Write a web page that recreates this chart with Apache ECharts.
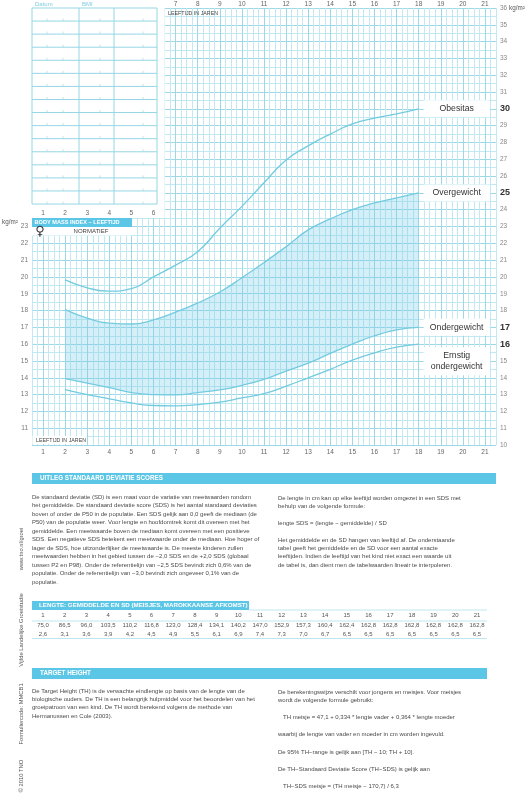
<!DOCTYPE html>
<html>
<head>
<meta charset="utf-8">
<script src="https://cdn.jsdelivr.net/npm/echarts@6/dist/echarts.min.js"></script>
<style>
  html, body { margin: 0; padding: 0; background: #fff; }
  #bmiChart { width: 532px; height: 800px; }
</style>
</head>
<body>
<div id="bmiChart"></div>
<script>
const ages = [2, 3, 4, 5, 6, 7, 8, 9, 10, 11, 12, 13, 14, 15, 16, 17, 18];
// BMI afkapwaarden (kg/m2), meisjes
const obesitas = [19.82, 19.35, 19.15, 19.3, 20.0, 20.7, 21.5, 22.9, 24.2, 25.6, 26.95, 27.8, 28.5, 29.1, 29.45, 29.7, 30.0];
const overgewicht = [18.05, 17.55, 17.25, 17.2, 17.45, 17.9, 18.45, 19.1, 19.95, 20.85, 21.8, 22.8, 23.45, 24.0, 24.4, 24.7, 25.0];
const ondergewicht = [13.95, 13.68, 13.42, 13.12, 13.0, 12.98, 13.12, 13.28, 13.55, 13.9, 14.4, 14.87, 15.45, 16.0, 16.5, 16.85, 17.0];
const ernstigOndergewicht = [13.3, 13.0, 12.75, 12.5, 12.35, 12.33, 12.4, 12.55, 12.8, 13.05, 13.5, 14.0, 14.5, 15.05, 15.48, 15.82, 16.0];
// rechter as: vet gedrukte afkapwaarden
const boldTicks = [16, 17, 25, 30];

// lengtetabel (meisjes, Marokkaanse afkomst)
const tableAges = [1, 2, 3, 4, 5, 6, 7, 8, 9, 10, 11, 12, 13, 14, 15, 16, 17, 18, 19, 20, 21];
const tableMean = [75.0, 86.5, 96.0, 103.5, 110.2, 116.8, 123.0, 128.4, 134.1, 140.2, 147.0, 152.9, 157.3, 160.4, 162.4, 162.8, 162.8, 162.8, 162.8, 162.8, 162.8];
const tableSd = [2.6, 3.1, 3.6, 3.9, 4.2, 4.5, 4.9, 5.5, 6.1, 6.9, 7.4, 7.3, 7.0, 6.7, 6.5, 6.5, 6.5, 6.5, 6.5, 6.5, 6.5];

const sdsLeft = [
  'De standaard deviatie (SD) is een maat voor de variatie van meetwaarden rondom',
  'het gemiddelde. De standaard deviatie score (SDS) is het aantal standaard deviaties',
  'boven of onder de P50 in de populatie. Een SDS gelijk aan 0,0 geeft de mediaan (de',
  'P50) van de populatie weer. Voor lengte en hoofdomtrek komt dit overeen met het',
  'gemiddelde. Een meetwaarde boven de mediaan komt overeen met een positieve',
  'SDS. Een negatieve SDS betekent een meetwaarde onder de mediaan. Hoe hoger of',
  'lager de SDS, hoe uitzonderlijker de meetwaarde is. De meeste kinderen zullen',
  'meetwaarden hebben in het gebied tussen de \u22122,0 SDS en de +2,0 SDS (globaal',
  'tussen P2 en P98). Onder de referentielijn van \u22122,5 SDS bevindt zich 0,6% van de',
  'populatie. Onder de referentielijn van \u22123,0 bevindt zich ongeveer 0,1% van de',
  'populatie.'
];
const sdsRight = [
  'De lengte in cm kan op elke leeftijd worden omgezet in een SDS met',
  'behulp van de volgende formule:',
  '',
  'lengte SDS = (lengte \u2212 gemiddelde) / SD',
  '',
  'Het gemiddelde en de SD hangen van leeftijd af. De onderstaande',
  'tabel geeft het gemiddelde en de SD voor een aantal exacte',
  'leeftijden. Indien de leeftijd van het kind niet exact een waarde uit',
  'de tabel is, dan dient men de tabelwaarden lineair te interpoleren.'
];
const thLeft = [
  'De Target Height (TH) is de verwachte eindlengte op basis van de lengte van de',
  'biologische ouders. De TH is een belangrijk hulpmiddel voor het beoordelen van het',
  'groeipatroon van een kind. De TH wordt berekend volgens de methode van',
  'Hermanussen en Cole (2003).'
];
const thRight = [
  'De berekeningswijze verschilt voor jongens en meisjes. Voor meisjes',
  'wordt de volgende formule gebruikt:',
  '',
  '   TH meisje = 47,1 + 0,334 * lengte vader + 0,364 * lengte moeder',
  '',
  'waarbij de lengte van vader en moeder in cm worden ingevuld.',
  '',
  'De 95% TH\u2212range is gelijk aan [TH \u2212 10; TH + 10].',
  '',
  'De TH\u2212Standaard Deviatie Score (TH\u2212SDS) is gelijk aan',
  '',
  '   TH\u2212SDS meisje = (TH meisje \u2212 170,7) / 6,3'
];

const FONT = '"Liberation Sans", Arial, sans-serif';
const CURVE = '#74cbe0';
const BANNER = '#5cc6e6';
const GRID_MINOR = '#c2e8f1';
const GRID_MAJOR = '#9cd8e6';
const SMOOTH = 0.5; // smooth: true in een lijnserie

const chart = echarts.init(document.getElementById('bmiChart'), null, { renderer: 'canvas' });

function pairs(values) {
  return ages.map((a, i) => [a, values[i]]);
}
function isInt(v) {
  return Math.abs(v - Math.round(v)) < 1e-9;
}

// zelfde bezier-gladstrijking als de lijnserie, zodat de vlakrand onder de lijnen valt
function smoothSegments(pts) {
  const segs = [];
  let cp0 = pts[0];
  for (let i = 1; i < pts.length; i++) {
    const x = pts[i][0], y = pts[i][1];
    const prevX = pts[i - 1][0], prevY = pts[i - 1][1];
    let cp1, nextCp0;
    if (i === pts.length - 1) {
      cp1 = [x, y];
    } else {
      const nextX = pts[i + 1][0], nextY = pts[i + 1][1];
      let vx = nextX - prevX, vy = nextY - prevY;
      const lenPrev = Math.hypot(x - prevX, y - prevY);
      const lenNext = Math.hypot(nextX - x, nextY - y);
      const r = lenNext / (lenNext + lenPrev);
      let ncx = x + vx * SMOOTH * r, ncy = y + vy * SMOOTH * r;
      ncx = Math.max(Math.min(ncx, Math.max(nextX, x)), Math.min(nextX, x));
      ncy = Math.max(Math.min(ncy, Math.max(nextY, y)), Math.min(nextY, y));
      vx = ncx - x; vy = ncy - y;
      let c1x = x - vx * lenPrev / lenNext, c1y = y - vy * lenPrev / lenNext;
      c1x = Math.max(Math.min(c1x, Math.max(prevX, x)), Math.min(prevX, x));
      c1y = Math.max(Math.min(c1y, Math.max(prevY, y)), Math.min(prevY, y));
      vx = x - c1x; vy = y - c1y;
      ncx = x + vx * lenNext / lenPrev; ncy = y + vy * lenNext / lenPrev;
      cp1 = [c1x, c1y];
      nextCp0 = [ncx, ncy];
    }
    segs.push([pts[i - 1], cp0, cp1, pts[i]]);
    cp0 = nextCp0;
  }
  return segs;
}
function bezierPoint(s, t) {
  const u = 1 - t;
  const a = u * u * u, b = 3 * u * u * t, c = 3 * u * t * t, d = t * t * t;
  return [a * s[0][0] + b * s[1][0] + c * s[2][0] + d * s[3][0],
          a * s[0][1] + b * s[1][1] + c * s[2][1] + d * s[3][1]];
}
function sampleCurve(segs) {
  const out = [segs[0][0]];
  segs.forEach(s => { for (let k = 1; k <= 16; k++) out.push(bezierPoint(s, k / 16)); });
  return out;
}

function curveLabel(text, offset) {
  return {
    show: true,
    distance: 5,
    offset: offset || [0, 0],
    backgroundColor: '#fff',
    padding: [3, 4],
    formatter: text,
    rich: { t: { width: 58, align: 'center', fontSize: 8.7, color: '#333', fontFamily: FONT, lineHeight: 11 } }
  };
}
function curve(name, values, label) {
  return {
    name: name,
    type: 'line',
    data: pairs(values),
    smooth: true,
    showSymbol: false,
    silent: true,
    lineStyle: { color: CURVE, width: 1.3 },
    endLabel: label,
    z: 3
  };
}

const option = {
  animation: false,
  backgroundColor: '#fff',
  grid: { left: 32, right: 36, top: 8, bottom: 355 },
  xAxis: [
    {
      type: 'value', min: 0.5, max: 21.5, interval: 0.25, position: 'bottom',
      axisLine: { show: false }, axisTick: { show: false },
      splitLine: { show: true, lineStyle: { width: 1, color: [GRID_MINOR, GRID_MINOR, GRID_MAJOR, GRID_MINOR] } },
      axisLabel: {
        margin: 4, fontSize: 6.5, color: '#666', fontFamily: FONT,
        formatter: v => (isInt(v) ? String(v) : '')
      }
    },
    {
      type: 'value', min: 0.5, max: 21.5, interval: 0.25, position: 'top',
      axisLine: { show: false }, axisTick: { show: false }, splitLine: { show: false },
      axisLabel: {
        margin: 0, fontSize: 6.5, color: '#666', fontFamily: FONT,
        formatter: v => (isInt(v) && v >= 7 ? String(v) : '')
      }
    }
  ],
  yAxis: [
    {
      type: 'value', min: 10, max: 36, interval: 0.5, position: 'left',
      axisLine: { show: false }, axisTick: { show: false },
      splitLine: { show: true, lineStyle: { width: 1, color: [GRID_MAJOR, GRID_MINOR] } },
      axisLabel: {
        margin: 4, fontSize: 6.5, color: '#777', fontFamily: FONT,
        formatter: v => (isInt(v) && v >= 11 && v <= 23 ? String(v) : '')
      }
    },
    {
      type: 'value', min: 10, max: 36, interval: 0.5, position: 'right',
      axisLine: { show: false }, axisTick: { show: false }, splitLine: { show: false },
      axisLabel: {
        margin: 4, fontSize: 6.5, color: '#888', fontFamily: FONT,
        formatter: v => {
          if (!isInt(v)) return '';
          return boldTicks.indexOf(v) >= 0 ? '{b|' + v + '}' : String(v);
        },
        rich: { b: { fontSize: 9, fontWeight: 'bold', color: '#333', fontFamily: FONT } }
      }
    }
  ],
  series: [
    {
      // gekleurd gebied tussen ondergewicht en overgewicht
      name: 'normaalgebied',
      type: 'custom',
      coordinateSystem: 'cartesian2d',
      silent: true,
      z: 2,
      data: [[ages[0], overgewicht[0]]],
      renderItem: function (params, api) {
        const upper = sampleCurve(smoothSegments(pairs(overgewicht).map(p => api.coord(p))));
        const lower = sampleCurve(smoothSegments(pairs(ondergewicht).map(p => api.coord(p))));
        return {
          type: 'polygon',
          shape: { points: upper.concat(lower.reverse()) },
          style: { fill: 'rgba(120, 205, 232, 0.32)' }
        };
      }
    },
    curve('Ondergewicht', ondergewicht, curveLabel('{t|Ondergewicht}')),
    curve('Overgewicht', overgewicht, curveLabel('{t|Overgewicht}')),
    curve('Obesitas', obesitas, curveLabel('{t|Obesitas}')),
    curve('Ernstig ondergewicht', ernstigOndergewicht, curveLabel('{t|Ernstig}\n{t|ondergewicht}', [0, 17]))
  ]
};
chart.setOption(option);

// ---- decoratie: tabel linksboven, koppen, tekstblokken ----
function txt(x, y, text, style, extra) {
  return Object.assign({
    type: 'text', x: x, y: y, z: 100, silent: true,
    style: Object.assign({ text: text, fontSize: 6, fontFamily: FONT, fill: '#555', verticalAlign: 'middle' }, style || {})
  }, extra || {});
}
function rect(x, y, w, h, fill, z) {
  return { type: 'rect', z: z || 90, silent: true, shape: { x: x, y: y, width: w, height: h }, style: { fill: fill } };
}
function line(x1, y1, x2, y2, stroke, w) {
  return { type: 'line', z: 95, silent: true, shape: { x1: x1, y1: y1, x2: x2, y2: y2 }, style: { stroke: stroke, lineWidth: w || 1 } };
}
function para(x, yFirst, lines, lh) {
  return txt(x, yFirst - lh / 2, lines.join('\n'), { verticalAlign: 'top', lineHeight: lh, fill: '#4a4a4a', fontSize: 6 });
}
function fmt(v) {
  return v.toFixed(1).replace('.', ',');
}

const g = [];
const topLeft = chart.convertToPixel({ gridIndex: 0 }, [0.5, 36]);
const coverEnd = chart.convertToPixel({ gridIndex: 0 }, [6.5, 23.5]);

// witte vlak over het raster linksboven
g.push(rect(topLeft[0], 0, coverEnd[0] - topLeft[0], coverEnd[1], '#fff', 80));

// invultabel Datum / BMI
const tblLeft = 32, tblRight = 157, tblTop = 8, rowH = 13.07, nRows = 15;
const colX = [32, 79, 114, 157];
for (let i = 0; i <= nRows; i++) {
  const y = tblTop + i * rowH;
  g.push(line(tblLeft, y, tblRight, y, '#96d6e5', 1));
  if (i > 0) {
    [47, 63, 100, 143].forEach(x => g.push(line(x, y - 2.5, x, y, '#a9dce9', 0.8)));
  }
}
colX.forEach(x => g.push(line(x, tblTop, x, tblTop + nRows * rowH, '#96d6e5', 1)));
g.push(txt(35, 4, 'Datum', { fill: '#7fcde0', fontSize: 6 }));
g.push(txt(82, 4, 'BMI', { fill: '#7fcde0', fontSize: 6 }));

// leeftijden 1..6 boven het onderste raster
[1, 2, 3, 4, 5, 6].forEach(a => {
  const p = chart.convertToPixel({ gridIndex: 0 }, [a, 23.5]);
  g.push(txt(p[0], p[1] - 5, String(a), { align: 'center', fontSize: 6.5, fill: '#666' }));
});

// titelbalk
g.push(rect(32, 218, 100, 9, BANNER, 96));
g.push(txt(34.5, 222.7, 'BODY MASS INDEX \u2013 LEEFTIJD', { fill: '#fff', fontSize: 5.6, fontWeight: 'bold' }));
g.push(rect(32, 227, 100, 8.5, '#fff', 96));
g.push(txt(91, 231.3, 'NORMATIEF', { align: 'center', fontSize: 6, fill: '#444' }));
g.push(txt(40, 232, '\u2640', { align: 'center', fontSize: 13, fontWeight: 'bold', fill: '#333', fontFamily: '"DejaVu Sans", sans-serif' }));

g.push(txt(168, 14, 'LEEFTIJD IN JAREN', { fontSize: 5.3, fill: '#444' }));
g.push(rect(32.5, 436, 54, 8, '#fff', 96));
g.push(txt(36, 440.3, 'LEEFTIJD IN JAREN', { fontSize: 5.3, fill: '#444' }));

g.push(txt(2, 222, 'kg/m\u00b2', { fontSize: 6.3, fill: '#555' }));
g.push(txt(509, 8.5, 'kg/m\u00b2', { fontSize: 6.3, fill: '#555' }));

// uitleg SDS
g.push(rect(32, 473, 464, 11, BANNER, 96));
g.push(txt(40, 478.7, 'UITLEG STANDAARD DEVIATIE SCORES', { fill: '#fff', fontSize: 6.3, fontWeight: 'bold' }));
g.push(para(32, 497, sdsLeft, 8.5));
g.push(para(278, 498, sdsRight, 8.4));

// lengtetabel
g.push(rect(32, 601, 217, 9, BANNER, 96));
g.push(txt(39, 605.7, 'LENGTE: GEMIDDELDE EN SD (MEISJES, MAROKKAANSE AFKOMST)', { fill: '#fff', fontSize: 6.2, fontWeight: 'bold' }));
g.push(line(249, 610, 487, 610, '#bfe6f0', 1));
g.push(line(32, 621, 487, 621, '#bfe6f0', 1));
g.push(line(32, 638.5, 487, 638.5, '#bfe6f0', 1));
tableAges.forEach((a, i) => {
  const x = 43 + i * 21.7;
  g.push(txt(x, 615, String(a), { align: 'center', fontSize: 6, fill: '#555' }));
  g.push(txt(x, 625.5, fmt(tableMean[i]), { align: 'center', fontSize: 6, fill: '#555' }));
  g.push(txt(x, 634, fmt(tableSd[i]), { align: 'center', fontSize: 6, fill: '#555' }));
});

// target height
g.push(rect(32, 668, 455, 11, BANNER, 96));
g.push(txt(40, 673.7, 'TARGET HEIGHT', { fill: '#fff', fontSize: 6.3, fontWeight: 'bold' }));
g.push(para(32, 691, thLeft, 8.4));
g.push(para(278, 692, thRight, 8.55));

// verticale teksten links
const rot = Math.PI / 2;
g.push(txt(21, 549, 'www.tno.nl/groei', { align: 'center', fontSize: 5.8, fill: '#555' }, { rotation: rot }));
g.push(txt(21, 630, 'Vijfde Landelijke Groeistudie', { align: 'center', fontSize: 5.8, fill: '#555' }, { rotation: rot }));
g.push(txt(21, 714, 'Formuliercode: MMCB1', { align: 'center', fontSize: 5.8, fill: '#555' }, { rotation: rot }));
g.push(txt(21, 776, '\u00a9 2010 TNO', { align: 'center', fontSize: 5.8, fill: '#555' }, { rotation: rot }));

chart.setOption({ graphic: { elements: g } });
</script>
</body>
</html>
